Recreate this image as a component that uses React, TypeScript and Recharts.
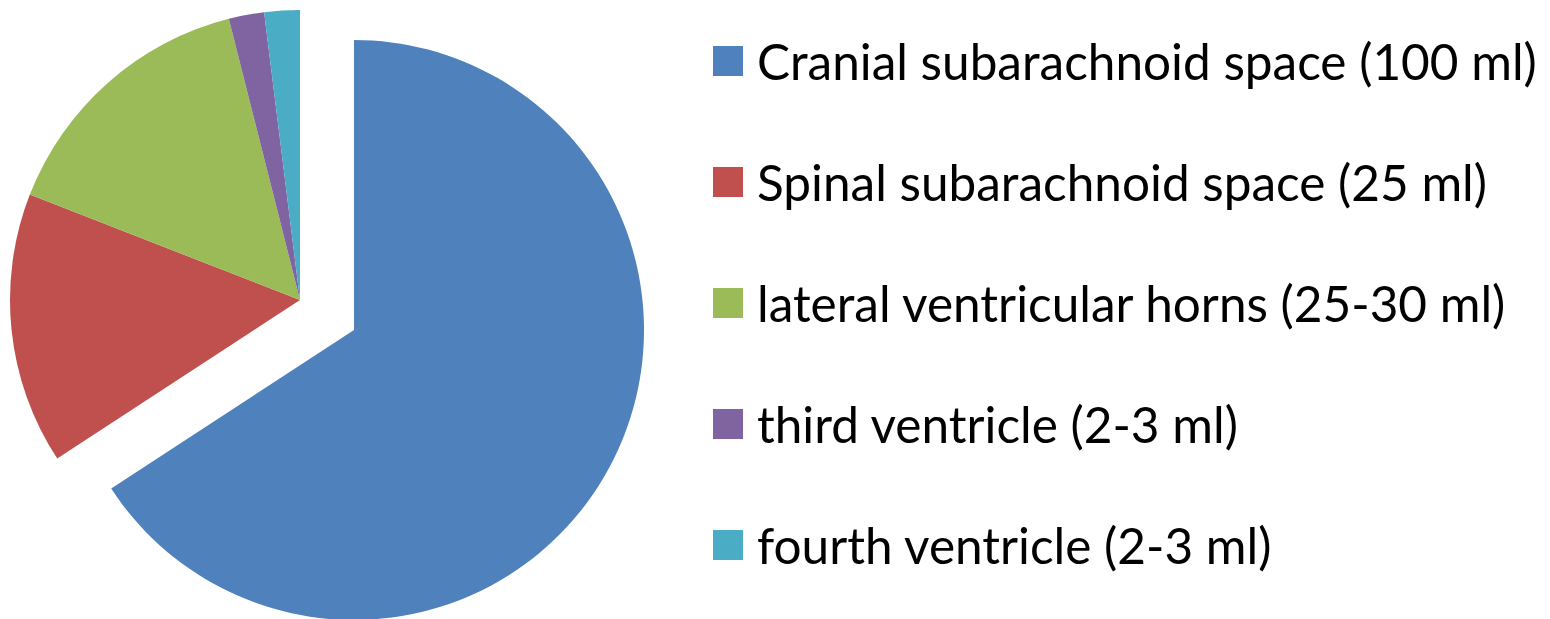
import { PieChart, Pie, Cell, Legend } from 'recharts';

const categories = [
  'Cranial subarachnoid space (100 ml)',
  'Spinal subarachnoid space (25 ml)',
  'lateral ventricular horns (25-30 ml)',
  'third ventricle (2-3 ml)',
  'fourth ventricle (2-3 ml)',
];
const volumes = [100, 23, 23, 3, 3];
const colors = ['#4F81BD', '#C0504D', '#9BBB59', '#8064A2', '#4BACC6'];

const data = categories.map((name, i) => ({ name, value: volumes[i] }));

const LegendList = () => (
  <div style={{ fontFamily: 'Lato, "Open Sans", sans-serif', fontSize: 49.5, color: '#000' }}>
    {categories.map((name, i) => (
      <div
        key={name}
        style={{ display: 'flex', alignItems: 'center', height: 121, whiteSpace: 'nowrap' }}
      >
        <span
          style={{ width: 30, height: 30, background: colors[i], display: 'inline-block', marginRight: 14, flex: 'none' }}
        />
        <span>{name}</span>
      </div>
    ))}
  </div>
);

export default function App() {
  return (
    <div style={{ position: 'absolute', left: 0, top: 0 }}>
      <PieChart width={1550} height={619} margin={{ top: 0, right: 0, bottom: 0, left: 0 }}>
        {/* exploded slice */}
        <Pie
          data={data}
          dataKey="value"
          cx={354}
          cy={330}
          outerRadius={290}
          startAngle={90}
          endAngle={-270}
          stroke="none"
          legendType="none"
          isAnimationActive={false}
        >
          {data.map((d, i) => (
            <Cell key={d.name} fill={i === 0 ? colors[i] : 'none'} />
          ))}
        </Pie>
        <Pie
          data={data}
          dataKey="value"
          cx={300}
          cy={300}
          outerRadius={290}
          startAngle={90}
          endAngle={-270}
          stroke="none"
          legendType="none"
          isAnimationActive={false}
        >
          {data.map((d, i) => (
            <Cell key={d.name} fill={i === 0 ? 'none' : colors[i]} />
          ))}
        </Pie>
        <Legend
          content={<LegendList />}
          wrapperStyle={{ left: 713, top: 0, width: 837, bottom: 'auto', right: 'auto' }}
        />
      </PieChart>
    </div>
  );
}
